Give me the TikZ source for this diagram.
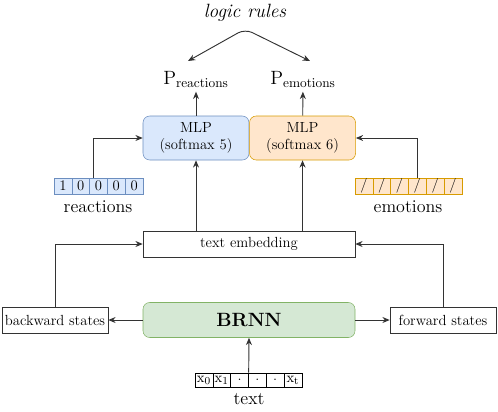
\documentclass[tikz,border=0pt]{standalone}
\usetikzlibrary{positioning,arrows.meta}

\definecolor{blfill}{HTML}{DAE8FC}
\definecolor{bldraw}{HTML}{6C8EBF}
\definecolor{orfill}{HTML}{FFE6CC}
\definecolor{ordraw}{HTML}{D79B00}
\definecolor{grfill}{HTML}{D5E8D4}
\definecolor{grdraw}{HTML}{82B366}
\definecolor{lncol}{HTML}{333333}

\tikzset{
	every node/.style={font=\fontsize{11}{13}\selectfont},
	box/.style={draw=lncol, fill=white, minimum width=79.5pt, minimum height=19.5pt, inner sep=0pt},
	mlpbox/.style={rounded corners=5pt, minimum width=79.5pt, minimum height=33pt, align=center, inner sep=0pt},
	cell/.style={draw, minimum width=13.35pt, minimum height=12pt, inner sep=0pt},
	lbl/.style={font=\fontsize{13.5}{15}\selectfont},
	arr/.style={draw=lncol, line width=0.7pt, -{Stealth[length=5.5pt,width=4.5pt]}},
}

\begin{document}
\begin{tikzpicture}[x=0.75pt, y=-0.75pt]
	\useasboundingbox (0,0) rectangle (498,411);

	% top part
	\node [font=\Large\itshape] (rules) at (245,13) {logic rules};
	\node [font=\Large] (preac) at (196,79) {$\mathrm{P}_{\mathrm{reactions}}$};
	\node [font=\Large] (pemo) at (303,79) {$\mathrm{P}_{\mathrm{emotions}}$};
	\coordinate (fork) at (245,29);
	\draw [arr, {Stealth[length=5.5pt,width=4.5pt]}-{Stealth[length=5.5pt,width=4.5pt]}, rounded corners=6pt]
		(188,61) -- (fork) -- (310,61);

	% MLPs
	\node [mlpbox, fill=blfill, draw=bldraw] (mlpr) at (196,138) {MLP\\(softmax 5)};
	\node [mlpbox, fill=orfill, draw=ordraw, right=0pt of mlpr] (mlpe) {MLP\\(softmax 6)};
	\draw [arr] (mlpr) -- (preac);
	\draw [arr] (mlpe) -- (pemo);

	% one-hot vectors
	\foreach \v [count=\i] in {1,0,0,0,0}
		\node [cell, fill=blfill, draw=bldraw] (r\i) at (45.1+\i*17.8,186) {\v};
	\foreach \i in {1,...,6}
		\node [cell, fill=orfill, draw=ordraw] (e\i) at (346.1+\i*17.8,186) {/};
	\node [lbl] (reac) at (98,207) {reactions};
	\node [lbl] (emo) at (408,207) {emotions};
	\draw [arr] ([xshift=-4pt]r3.north) |- (mlpr.west);
	\draw [arr] (e4.north) |- (mlpe.east);

	% embedding and BRNN
	\node [box, minimum width=159pt] (emb) at (249,244) {text embedding};
	\draw [arr] (emb.north -| mlpr) -- (mlpr);
	\draw [arr] (emb.north -| mlpe) -- (mlpe);

	\node [mlpbox, fill=grfill, draw=grdraw, minimum width=159pt, minimum height=26.25pt, font=\Large\bfseries] (brnn) at (249,320) {BRNN};
	\node [box] (back) at (55,320) {backward states};
	\node [box] (forw) at (443,320) {forward states};
	\draw [arr] (brnn) -- (back);
	\draw [arr] (brnn) -- (forw);
	\draw [arr] (back) |- (emb);
	\draw [arr] (forw) |- (emb);

	% input text
	\foreach \t [count=\i] in {$\mathrm{x}_0$,$\mathrm{x}_1$,.,.,.,$\mathrm{x}_{\mathrm{t}}$}
		\node [cell, minimum height=10.5pt] (t\i) at (186.1+\i*17.8,380) {\t};
	\node [lbl] (txt) at (249,399) {text};
	\draw [arr] (t3.north east) -- (brnn.south);
\end{tikzpicture}
\end{document}
